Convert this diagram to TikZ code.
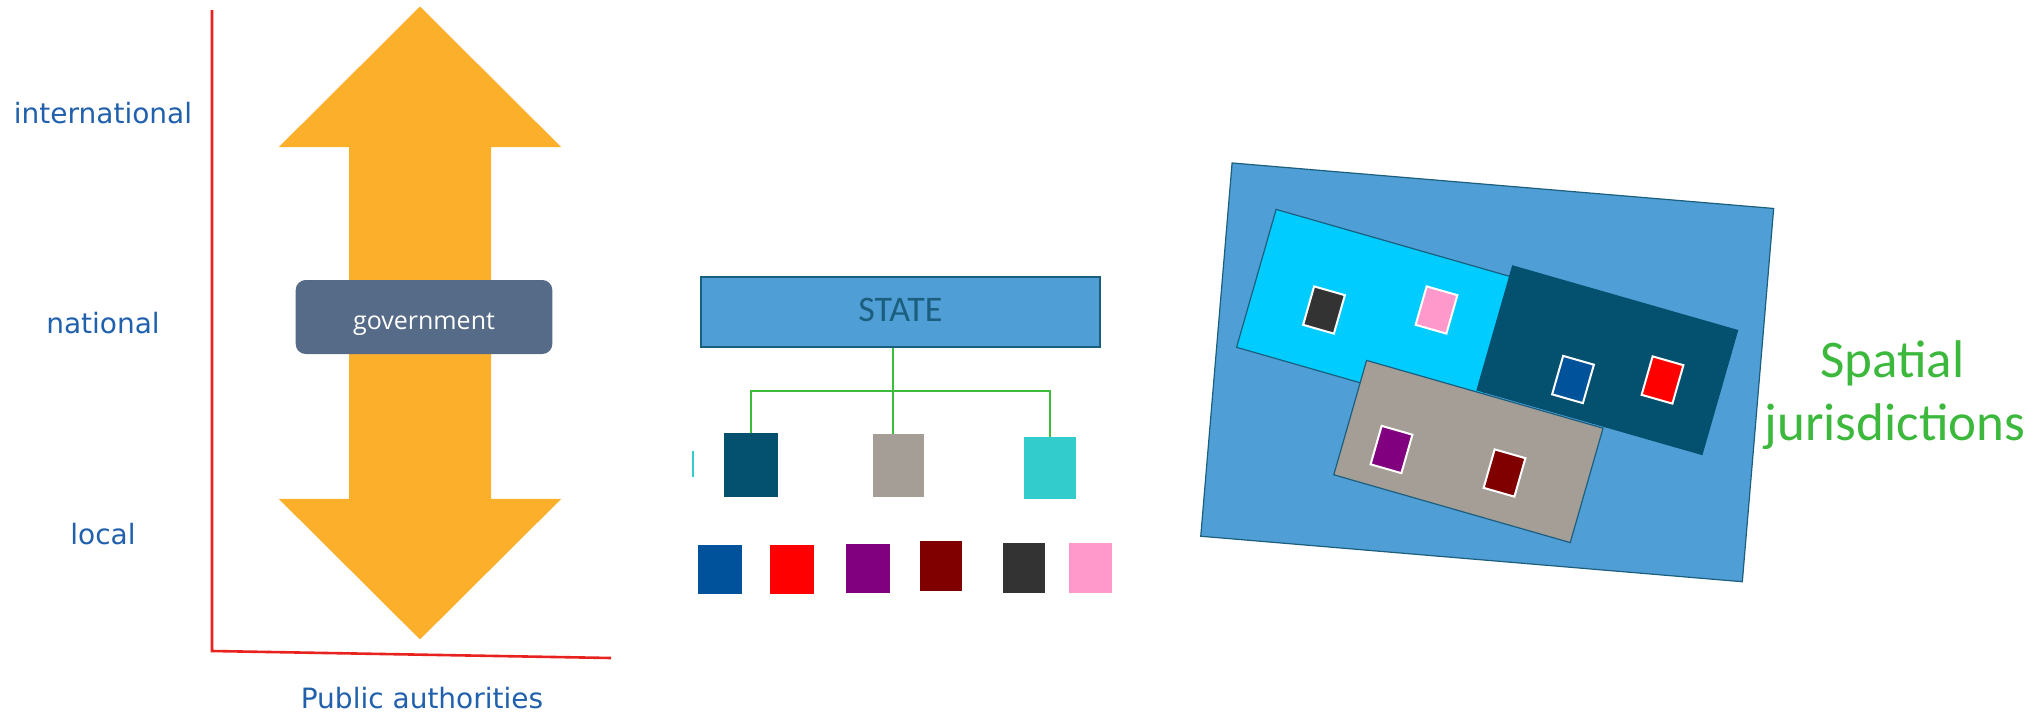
\documentclass[tikz,border=0pt]{standalone}
\usepackage{fontspec}
\setmainfont{DejaVu Sans}
\newfontfamily\calib{Carlito}
\newfontfamily\opens{Open Sans}
\definecolor{orangeA}{HTML}{FCAF2B}
\definecolor{govC}{HTML}{566B87}
\definecolor{axisC}{HTML}{E8231F}
\definecolor{labC}{HTML}{2060AC}
\definecolor{stateC}{HTML}{4F9FD6}
\definecolor{borderC}{HTML}{1B5E7E}
\definecolor{connC}{HTML}{3DBB3D}
\definecolor{dtealC}{HTML}{03506F}
\definecolor{greyC}{HTML}{A59E96}
\definecolor{tealC}{HTML}{33CCCC}
\definecolor{skyC}{HTML}{00CCFF}
\definecolor{blueC}{HTML}{00529B}
\definecolor{redC}{HTML}{FF0000}
\definecolor{purpC}{HTML}{800080}
\definecolor{maroonC}{HTML}{800000}
\definecolor{dgreyC}{HTML}{333333}
\definecolor{pinkC}{HTML}{FF99CC}
\definecolor{spatC}{HTML}{3CB83C}
\begin{document}
\begin{tikzpicture}[x=1pt,y=-1pt,
  lab/.style={text=labC,font=\fontsize{28}{32}\selectfont,inner sep=0pt},
  axisline/.style={draw=axisC,line width=2.6pt},
  gov/.style={fill=govC,rounded corners=10pt,text=white,inner sep=0pt,
    minimum width=256.6pt,minimum height=74pt,text height=24pt,text depth=0pt,
    font=\opens\fontsize{25}{29}\selectfont},
  statebox/.style={fill=stateC,draw=borderC,line width=1.6pt,inner sep=0pt,
    minimum width=399pt,minimum height=70pt,text=borderC,text height=19.5pt,text depth=0pt,
    font=\calib\fontsize{36}{40}\selectfont},
  sq/.style={fill=#1,inner sep=0pt},
  conn/.style={draw=connC,line width=2.4pt},
  region/.style={fill=#1,draw=borderC,line width=1.2pt,inner sep=0pt,rotate=-16},
  tile/.style={fill=#1,draw=white,line width=2pt,inner sep=0pt,minimum width=32pt,minimum height=40pt,rotate=-16},
  spat/.style={text=spatC,font=\calib\fontsize{53}{62}\selectfont,inner sep=0pt,anchor=base}
]
\useasboundingbox (0,0) rectangle (2042,712);

% axes
\coordinate (ytop) at (212,10);
\coordinate (orig) at (212,651);
\coordinate (xend) at (611,658);
\draw[axisline] (ytop) -- (orig) -- (xend);

% labels
\node[lab] (intl) at (103,113) {international};
\node[lab] (natl) at (103,323) {national};
\node[lab] (locl) at (103,534) {local};
\node[lab] (pub) at (422,698) {Public authorities};

% double arrow
\fill[orangeA] (420,6.5) -- (561.3,147.2) -- (491,147.2) -- (491,498.8) -- (561.3,498.8)
  -- (420,639.4) -- (278.7,498.8) -- (349,498.8) -- (349,147.2) -- (278.7,147.2) -- cycle;

\node[gov] (gov) at (424,317) {government};

% state hierarchy
\node[statebox] (state) at (900.4,312) {STATE};
\node[sq=dtealC,minimum width=54pt,minimum height=64pt] (dteal) at (751,465) {};
\node[sq=greyC,minimum width=51pt,minimum height=63pt] (grey) at (898.5,465.5) {};
\node[sq=tealC,minimum width=52pt,minimum height=62pt] (cyan) at (1050,468) {};
\node[sq=tealC,minimum width=2.5pt,minimum height=26pt] (sliver) at (693.2,464) {};
\coordinate (j) at (893,391);
\draw[conn] (state.south -| j) -- (grey.north -| j);
\draw[conn] (dteal.north) |- (j) -| (cyan.north);

\node[sq=blueC,minimum width=44pt,minimum height=49pt] (b1) at (720,569.5) {};
\node[sq=redC,minimum width=44pt,minimum height=49pt] (b2) at (792,569.5) {};
\node[sq=purpC,minimum width=44pt,minimum height=49pt] (b3) at (868,568.5) {};
\node[sq=maroonC,minimum width=42pt,minimum height=50pt] (b4) at (941,566) {};
\node[sq=dgreyC,minimum width=42pt,minimum height=50pt] (b5) at (1024,568) {};
\node[sq=pinkC,minimum width=43pt,minimum height=50pt] (b6) at (1090.5,568) {};

% map
\node[fill=stateC,draw=borderC,line width=1.2pt,inner sep=0pt,minimum width=543.5pt,
  minimum height=374.6pt,rotate=-4.8] (map) at (1487.2,372.35) {};
\node[region=skyC,minimum width=250pt,minimum height=143.5pt] (rsky) at (1376.5,312.8) {};
\node[region=greyC,minimum width=246pt,minimum height=119pt] (rgrey) at (1468.4,451.5) {};
\node[region=dtealC,draw=dtealC,minimum width=234pt,minimum height=129pt] (rdteal) at (1607.3,360.2) {};

\node[tile=dgreyC] (t1) at (1324,310) {};
\node[tile=pinkC] (t2) at (1436.5,310) {};
\node[tile=blueC] (t3) at (1573,379.5) {};
\node[tile=redC] (t4) at (1662.5,380) {};
\node[tile=purpC] (t5) at (1391.5,449.5) {};
\node[tile=maroonC] (t6) at (1504.5,473) {};

\node[spat] (sp1) at (1892.4,377.3) {Spatial};
\node[spat] (sp2) at (1895,440.7) {jurisdictions};
\end{tikzpicture}
\end{document}
